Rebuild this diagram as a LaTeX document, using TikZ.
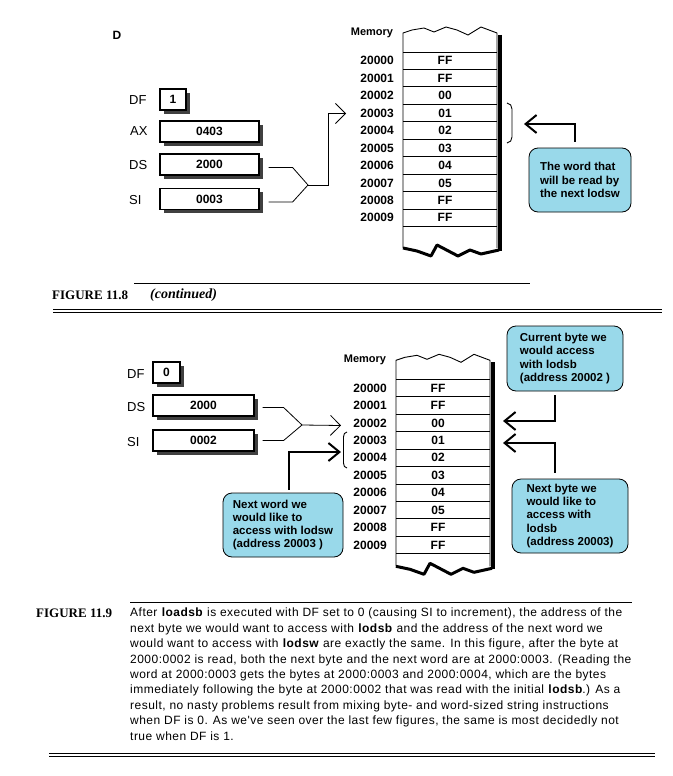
\documentclass[tikz,border=0pt]{standalone}
\usepackage{fontspec}
\setmainfont{Liberation Sans}
\newfontfamily\capfont{Liberation Serif}
\newfontfamily\bodyfont[LetterSpace=4]{Liberation Sans}
\usetikzlibrary{arrows.meta,shadows,positioning}

\definecolor{calloutblue}{RGB}{153,217,234}

\tikzset{
  reglabel/.style={anchor=west, inner sep=0pt, font=\fontsize{13}{15}\selectfont},
  regbox/.style={draw, line width=1.2pt, fill=white, minimum height=21pt, inner sep=0pt,
    font=\fontsize{12}{14}\selectfont\bfseries,
    drop shadow={shadow xshift=4pt, shadow yshift=-3.5pt, fill=black!75, opacity=1}},
  memtext/.style={inner sep=0pt, font=\fontsize{12}{14}\selectfont\bfseries},
  memhead/.style={inner sep=0pt, font=\fontsize{11}{13}\selectfont\bfseries},
  callout/.style={draw, line width=0.8pt, fill=calloutblue, rounded corners=9pt,
    align=left, inner sep=0pt, font=\fontsize{11.5}{13.2}\selectfont\bfseries},
  feed/.style={line width=0.8pt},
  feedtip/.style={-{Straight Barb[length=10pt,width=20pt]}},
  pointer/.style={line width=2pt},
  pointtip/.style={-{Straight Barb[length=11pt,width=18pt]}},
  bracket/.style={line width=0.9pt},
  rule/.style={line width=0.9pt}
}

% memory column in local pixel units: #1 name prefix, #2 level of the torn bottom
\newcommand{\memcolumn}[2]{%
  % heavy right side and torn bottom edge
  \draw[line width=4pt] (96.5,-17) -- (96.5,{#2+3});
  \draw[line width=3pt, line join=round] (0,#2) -- (14,{#2+3}) -- (28,{#2+8}) -- (34,{#2-3})
    -- (55,{#2+8}) -- (67,{#2+2}) -- (78,{#2+6}) -- (96,{#2+2});
  % left and right sides with torn top edge
  \draw[line width=0.9pt] (0,{#2}) -- (0,-19) -- (9,-22) -- (21,-24) -- (31,-20)
    -- (43,-25) -- (54,-22) -- (65,-17) -- (78,-25) -- (94,-19) -- (94,{#2});
  \foreach \k in {0,...,10}
    \draw[line width=0.9pt] (0,{\k*17.45}) -- (94,{\k*17.45});
  \node[memhead] (#1head) at (-31,-19) {Memory};
  \foreach \val [count=\k from 0] in {FF,FF,00,01,02,03,04,05,FF,FF} {
    \node[memtext] (#1v\k) at (42,{(\k+0.5)*17.45}) {\val};
    \node[memtext, anchor=east] (#1a\k) at (-9,{(\k+0.5)*17.45}) {2000\k};
  }
}

\begin{document}
\begin{tikzpicture}[x=1pt, y=-1pt]
  \useasboundingbox (0,0) rectangle (672,776);

  % ---------- upper part: Figure 11.8 (continued) ----------
  \node[memtext] (mark) at (117,35) {D};

  % registers
  \node[reglabel] (dfTopL) at (129,100) {DF};
  \node[reglabel] (axTopL) at (130,131) {AX};
  \node[reglabel] (dsTopL) at (129,165) {DS};
  \node[reglabel] (siTopL) at (129,200) {SI};
  \node[regbox, minimum width=26pt] (dfTop) at (173,99.5) {1};
  \node[regbox, minimum width=99pt] (axTop) at (209.5,131.5) {0403};
  \node[regbox, minimum width=99pt] (dsTop) at (209.5,164.5) {2000};
  \node[regbox, minimum width=99pt] (siTop) at (209.5,199) {0003};

  % memory
  \begin{scope}[shift={(403,52)}]
    \memcolumn{mt}{196}
  \end{scope}

  % DS:SI points at 20003
  \coordinate (joinTop) at (308,185);
  \coordinate (tipTop) at (346,113.5);
  \draw[feed] ([shift={(9,3)}]dsTop.east) -- ++(24,0) -- (joinTop);
  \draw[feed] ([shift={(9,3)}]siTop.east) -- ++(24,0) -- (joinTop);
  \draw[feed, feedtip] (joinTop) -- ++(20,0) |- (tipTop);

  % word read by the next lodsw
  \draw[bracket] (507,103) to[out=0,in=90] (512,109) -- (512,137) to[out=-90,in=0] (507,143);
  \node[callout, minimum width=102pt, minimum height=64pt]
    (wordTop) at (580,180) {The word that\\will be read by\\the next lodsw};
  \coordinate (tipWord) at (524,124);
  \draw[pointer, pointtip] ([xshift=-5pt, yshift=6pt]wordTop.north) |- (tipWord);

  % caption
  \draw[rule] (134,283) -- (530,283);
  \node[anchor=west, inner sep=0pt] (fig8) at (52,295)
    {\fontsize{13}{15}\capfont\bfseries FIGURE 11.8};
  \node[anchor=west, inner sep=0pt] (fig8cont) at (150,295)
    {\fontsize{14}{16}\capfont\bfseries\itshape (continued)};
  \draw[rule] (53,309.5) -- (662,309.5);
  \draw[rule] (53,312.5) -- (662,312.5);

  % ---------- lower part: Figure 11.9 ----------
  % registers
  \node[reglabel] (dfBotL) at (127,374) {DF};
  \node[reglabel] (dsBotL) at (127,407) {DS};
  \node[reglabel] (siBotL) at (127,442) {SI};
  \node[regbox, minimum width=27pt] (dfBot) at (166.5,372.5) {0};
  \node[regbox, minimum width=101pt] (dsBot) at (203.5,405.5) {2000};
  \node[regbox, minimum width=101pt] (siBot) at (203.5,440.5) {0002};

  % memory
  \begin{scope}[shift={(396,379.3)}]
    \memcolumn{mb}{187}
  \end{scope}

  % DS:SI points at 20002
  \coordinate (joinBot) at (302,425);
  \coordinate (tipBot) at (341,425.5);
  \draw[feed] ([shift={(8,2)}]dsBot.east) -- ++(21,0) -- (joinBot);
  \draw[feed] ([shift={(8,0)}]siBot.east) -- ++(21,0) -- (joinBot);
  \draw[feed, feedtip] (joinBot) -- (tipBot);

  % next word for lodsw
  \draw[bracket] (347,432) to[out=180,in=90] (343.5,437) -- (343.5,463) to[out=-90,in=180] (347,468);
  \node[callout, minimum width=120pt, minimum height=64pt]
    (nextWord) at (283,525) {Next word we\\would like to\\access with lodsw\\(address 20003 )};
  \coordinate (tipWordBot) at (341,452);
  \draw[pointer, pointtip] ([xshift=6pt, yshift=3pt]nextWord.north) |- (tipWordBot);

  % current and next byte for lodsb
  \node[callout, minimum width=116pt, minimum height=65pt]
    (curByte) at (565,358.5) {Current byte we\\would access\\with lodsb\\(address 20002 )};
  \node[callout, minimum width=116pt, minimum height=74pt]
    (nextByte) at (570,516) {Next byte we\\would like to\\access with\\lodsb\\(address 20003)};
  \coordinate (tipCur) at (503,421);
  \coordinate (tipNext) at (503,443);
  \draw[pointer, pointtip] ([xshift=-10pt, yshift=-4pt]curByte.south) |- (tipCur);
  \draw[pointer, pointtip] ([xshift=-15pt, yshift=6pt]nextByte.north) |- (tipNext);

  % caption
  \draw[rule] (130,602) -- (632,602);
  \node[anchor=west, inner sep=0pt] (fig9) at (36,613)
    {\fontsize{13}{15}\capfont\bfseries FIGURE 11.9};
  \node[anchor=north west, inner sep=0pt, align=left,
    font=\fontsize{12}{15.4}\bodyfont] (fig9text) at (130,608)
    {After \textbf{loadsb} is executed with DF set to 0 (causing SI to increment), the address of the\\
     next byte we would want to access with \textbf{lodsb} and the address of the next word we\\
     would want to access with \textbf{lodsw} are exactly the same. In this figure, after the byte at\\
     2000:0002 is read, both the next byte and the next word are at 2000:0003. (Reading the\\
     word at 2000:0003 gets the bytes at 2000:0003 and 2000:0004, which are the bytes\\
     immediately following the byte at 2000:0002 that was read with the initial \textbf{lodsb}.) As a\\
     result, no nasty problems result from mixing byte- and word-sized string instructions\\
     when DF is 0. As we've seen over the last few figures, the same is most decidedly not\\
     true when DF is 1.};
  \draw[rule] (49,753) -- (655,753);
  \draw[rule] (49,756) -- (655,756);
\end{tikzpicture}
\end{document}
